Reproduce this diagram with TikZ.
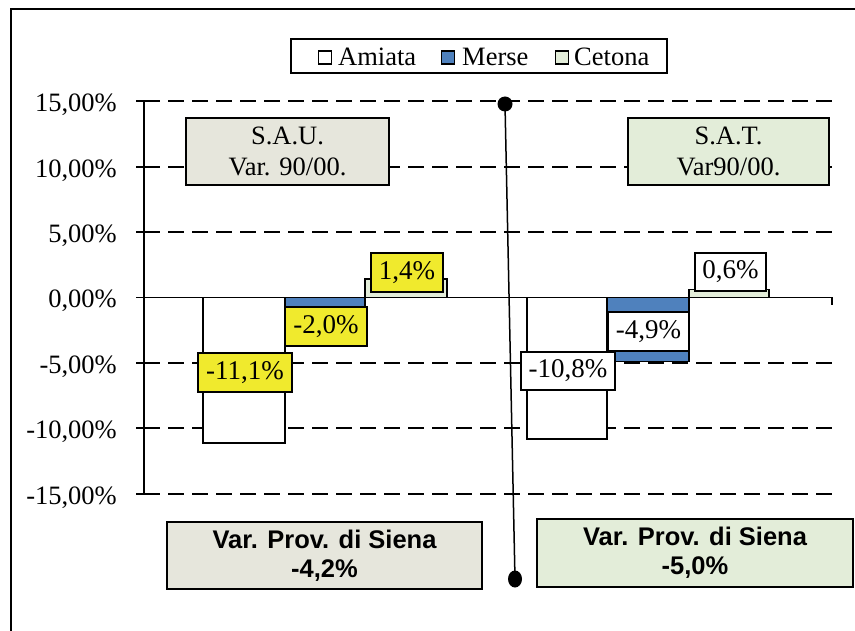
\documentclass[tikz,border=0pt]{standalone}
\usepackage{fontspec}
\setmainfont{Liberation Serif}
\newfontfamily\boxsans{Liberation Sans}
\usetikzlibrary{shapes.geometric}
\definecolor{sauFill}{RGB}{230,230,220}
\definecolor{satFill}{RGB}{227,237,217}
\definecolor{merseBlue}{RGB}{79,129,189}
\definecolor{labYellow}{RGB}{240,234,45}
\begin{document}
\begin{tikzpicture}[x=1pt,y=-1pt,
  gridline/.style={line width=1.7pt, dash pattern=on 16pt off 8pt},
  axisline/.style={line width=2.4pt},
  tickline/.style={line width=1.7pt},
  bar/.style={draw=black, line width=1.6pt},
  ylab/.style={anchor=base east, inner sep=0pt, font=\fontsize{26.5}{28}\selectfont},
  vlab/.style={draw=black, line width=1.6pt, inner sep=0pt, font=\fontsize{27}{28}\selectfont},
  titlebox/.style={draw=black, line width=1.6pt, inner sep=0pt, align=center, font=\fontsize{26.5}{31}\selectfont},
  provbox/.style={draw=black, line width=1.6pt, inner sep=0pt, align=center, font=\boxsans\bfseries\fontsize{25.5}{29}\selectfont},
  legsq/.style={draw=black, line width=1.2pt, minimum size=13pt, inner sep=0pt},
  legtxt/.style={anchor=base west, inner sep=0pt, font=\fontsize{26.5}{28}\selectfont},
  dot/.style={fill=black, circle, inner sep=0pt, minimum size=15pt}
]
\useasboundingbox (0,0) rectangle (855,631);
\fill[white] (0,0) rectangle (855,631);

% grid lines
\foreach \v in {15,10,5,-5,-10,-15}{
  \draw[gridline] (144,{297.5-13.08*\v}) -- (832,{297.5-13.08*\v});
  \draw[tickline] (136,{297.5-13.08*\v}) -- (144,{297.5-13.08*\v});
}
% y labels
\foreach \v/\t in {15/{15,00\%},10/{10,00\%},5/{5,00\%},0/{0,00\%},-5/{-5,00\%},-10/{-10,00\%},-15/{-15,00\%}}{
  \node[ylab] at (117,{297.5-13.08*\v+10.5}) {\t};
}

% bars group 1
\draw[bar, fill=white] (203,297.5) rectangle (285,442.7);
\draw[bar, fill=merseBlue] (285,297.5) rectangle (365,323.7);
\draw[bar, fill=satFill] (365,279.2) rectangle (447,297.5);
% bars group 2
\draw[bar, fill=white] (527,297.5) rectangle (607,439);
\draw[bar, fill=merseBlue] (607,297.5) rectangle (689,361.6);
\draw[bar, fill=satFill] (689,289.7) rectangle (769,297.5);

% axes
\draw[axisline] (144,101.7) -- (144,493.3);
\draw[tickline] (136,297.5) -- (832,297.5) -- (832,305);

% value labels
\node[vlab, fill=labYellow, minimum width=94pt, minimum height=39pt] (l111) at (245,372.5) {-11,1\%};
\node[vlab, fill=labYellow, minimum width=82pt, minimum height=39pt] (l20) at (326,326.5) {-2,0\%};
\node[vlab, fill=labYellow, minimum width=72pt, minimum height=39pt] (l14) at (407,272.5) {1,4\%};
\node[vlab, fill=white, minimum width=94pt, minimum height=38pt] (l108) at (568,371) {-10,8\%};
\node[vlab, fill=white, minimum width=81pt, minimum height=39pt] (l49) at (648.5,331.5) {-4,9\%};
\node[vlab, fill=white, minimum width=71pt, minimum height=38pt] (l06) at (730.5,272) {0,6\%};

% title boxes
\node[titlebox, fill=sauFill, minimum width=203pt, minimum height=67pt] (sau) at (287.5,151.5) {S.A.U.\\Var. 90/00.};
\node[titlebox, fill=satFill, minimum width=201pt, minimum height=67pt] (sat) at (728.5,151.5) {S.A.T.\\Var90/00.};

% legend
\node[draw=black, line width=1.6pt, fill=white, minimum width=376pt, minimum height=34pt, inner sep=0pt] (legend) at (479,56) {};
\node[legsq, fill=white] (sqA) at (325,57.5) {};
\node[legtxt] (tA) at (338,65.5) {Amiata};
\node[legsq, fill=merseBlue] (sqM) at (448,57.5) {};
\node[legtxt] (tM) at (462,65.5) {Merse};
\node[legsq, fill=satFill] (sqC) at (562,57.5) {};
\node[legtxt] (tC) at (574,65.5) {Cetona};

% connector
\node[dot] (dotT) at (505,104) {};
\node[fill=black, ellipse, inner sep=0pt, minimum width=14pt, minimum height=17pt] (dotB) at (515,579) {};
\draw[line width=1.5pt] (dotT.center) -- (dotB.center);

% province boxes
\node[provbox, fill=sauFill, minimum width=315pt, minimum height=67pt] (provL) at (324.5,555.5) {Var. Prov. di Siena\\-4,2\%};
\node[provbox, fill=satFill, minimum width=316pt, minimum height=68pt] (provR) at (695,553) {Var. Prov. di Siena\\-5,0\%};

% outer frame
\draw[line width=2.6pt] (11,631) -- (11,9) -- (855,9);
\end{tikzpicture}
\end{document}
